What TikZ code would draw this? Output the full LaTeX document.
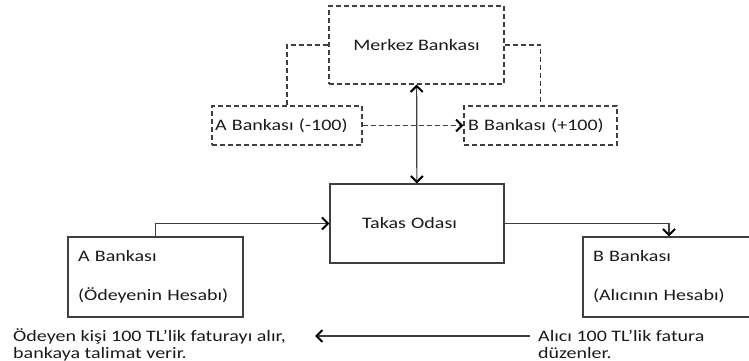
\documentclass[tikz,border=0pt]{standalone}
\usepackage{fontspec}
\setmainfont{Carlito}[FakeStretch=1.25]
\usetikzlibrary{arrows.meta}
\definecolor{boxline}{HTML}{3F3F3F}
\definecolor{textink}{HTML}{1A1A1A}

\begin{document}
\begin{tikzpicture}[x=1pt, y=-1pt, font=\fontsize{16}{18}\selectfont,
    text=textink,
    >={Straight Barb[length=6pt,width=12pt,line width=2pt,color=black]}]
  % page is 749 x 361, one unit is one pixel of the sketch (y runs down)
  \useasboundingbox (0,0) rectangle (749,361);
  \tikzset{
    dashbox/.style={draw=boxline, line width=1.1pt, dash pattern=on 5pt off 3pt,
                    inner sep=0pt, align=left},
    solidbox/.style={draw=boxline, line width=1.2pt, inner sep=0pt, align=left},
    dashlink/.style={draw=boxline, line width=1.1pt, dash pattern=on 5pt off 3pt},
    link/.style={draw=boxline, line width=1.2pt},
    note/.style={anchor=base west, align=left, inner sep=0pt,
                 font=\fontsize{16}{17}\selectfont}}

  % ---- upper block: central bank and the two settlement accounts ----
  \node[dashbox, minimum width=175pt, minimum height=78pt, align=center]
    (merkez) at (416.5,45) {Merkez Bankası};
  \node[dashbox, minimum width=150pt, minimum height=39pt, text width=144pt]
    (amb) at (287,125.5) {A Bankası (-100)};
  \node[dashbox, minimum width=153pt, minimum height=39pt, text width=145pt]
    (bmb) at (540.5,125.5) {B Bankası (+100)};

  \draw[dashlink] (amb) |- (merkez);
  \draw[dashlink] (merkez) -| (bmb);
  \draw[dashlink, ->] (amb) -- (bmb);

  % ---- lower block: clearing house and the two banks ----
  \node[solidbox, minimum width=174pt, minimum height=79pt, text width=110pt]
    (takas) at (417,223.5) {Takas Odası};
  \node[solidbox, minimum width=175pt, minimum height=80pt, text width=155pt]
    (abank) at (155.5,277) {A Bankası\\[21pt](Ödeyenin Hesabı)};
  \node[solidbox, minimum width=172pt, minimum height=80pt, text width=152pt]
    (bbank) at (669,277) {B Bankası\\[21pt](Alıcının Hesabı)};

  \draw[link, <->] (merkez) -- (takas);
  \draw[link, ->] (abank) |- (takas);
  \draw[link, ->] (takas) -| (bbank);

  % ---- the two notes under the banks (base = last line) ----
  \node[note] (odeyen) at (13,358)
    {Ödeyen kişi 100 TL'lik faturayı alır,\\bankaya talimat verir.};
  \node[note] (alici) at (538,358) {Alıcı 100 TL'lik fatura\\düzenler.};
  \coordinate (faturafrom) at (530,336);
  \coordinate (faturato) at (315,336);
  \draw[link, ->] (faturafrom) -- (faturato);
\end{tikzpicture}
\end{document}
